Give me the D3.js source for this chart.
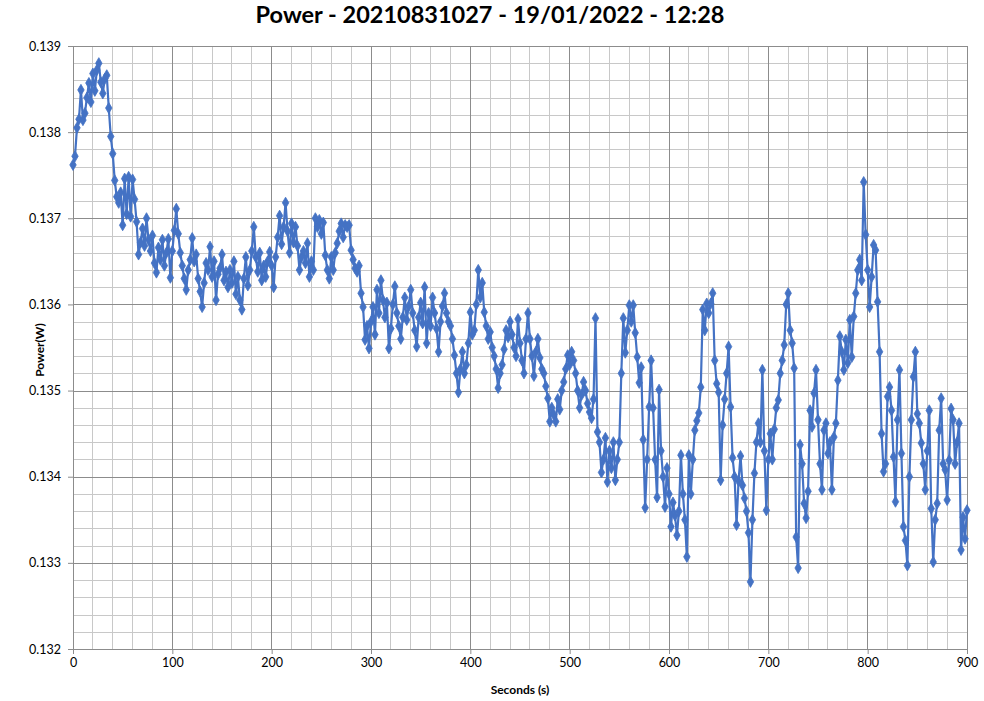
<!DOCTYPE html>
<html><head><meta charset="utf-8">
<script src="https://cdn.jsdelivr.net/npm/d3@7"></script>
<style>
html,body{margin:0;padding:0;background:#fff;}
svg{display:block;font-family:Lato,"Open Sans",Arial,sans-serif;}
</style></head>
<body><svg id="chart" width="984" height="701"></svg>
<script>
const title = "Power - 20210831027 - 19/01/2022 - 12:28";
const xTitle = "Seconds (s)";
const yTitle = "Power(W)";
const timeStep = 2; // seconds between samples
const xTicks = [0,100,200,300,400,500,600,700,800,900];
const yTicks = [0.132,0.133,0.134,0.135,0.136,0.137,0.138,0.139];
const power = [
0.13762,0.13772,0.13805,0.13815,0.13849,0.13814,0.13822,0.13840,0.13857,0.13835,
0.13868,0.13848,0.13872,0.13880,0.13858,0.13845,0.13862,0.13866,0.13828,0.13795,
0.13775,0.13744,0.13725,0.13718,0.13730,0.13692,0.13746,0.13705,0.13748,0.13702,
0.13745,0.13722,0.13696,0.13658,0.13672,0.13688,0.13668,0.13700,0.13675,0.13662,
0.13680,0.13648,0.13637,0.13666,0.13652,0.13675,0.13645,0.13660,0.13676,0.13631,
0.13662,0.13686,0.13711,0.13682,0.13660,0.13645,0.13630,0.13617,0.13640,0.13652,
0.13677,0.13650,0.13658,0.13630,0.13615,0.13597,0.13625,0.13648,0.13640,0.13667,
0.13632,0.13650,0.13605,0.13635,0.13642,0.13658,0.13628,0.13638,0.13620,0.13640,
0.13625,0.13650,0.13612,0.13632,0.13605,0.13594,0.13630,0.13655,0.13622,0.13640,
0.13662,0.13690,0.13655,0.13638,0.13660,0.13628,0.13645,0.13632,0.13650,0.13661,
0.13645,0.13620,0.13655,0.13678,0.13703,0.13670,0.13690,0.13718,0.13685,0.13660,
0.13694,0.13672,0.13690,0.13668,0.13640,0.13655,0.13662,0.13648,0.13671,0.13632,
0.13650,0.13640,0.13700,0.13690,0.13698,0.13682,0.13695,0.13657,0.13640,0.13630,
0.13655,0.13640,0.13660,0.13671,0.13685,0.13694,0.13678,0.13692,0.13690,0.13692,
0.13663,0.13652,0.13642,0.13638,0.13645,0.13613,0.13597,0.13559,0.13575,0.13549,
0.13580,0.13597,0.13565,0.13617,0.13590,0.13628,0.13605,0.13585,0.13602,0.13549,
0.13572,0.13600,0.13621,0.13590,0.13575,0.13560,0.13585,0.13608,0.13582,0.13598,
0.13617,0.13590,0.13570,0.13551,0.13585,0.13602,0.13578,0.13620,0.13555,0.13590,
0.13575,0.13608,0.13590,0.13572,0.13545,0.13580,0.13598,0.13613,0.13590,0.13580,
0.13575,0.13560,0.13541,0.13520,0.13498,0.13525,0.13545,0.13520,0.13530,0.13555,
0.13591,0.13565,0.13570,0.13600,0.13640,0.13608,0.13625,0.13591,0.13575,0.13560,
0.13568,0.13550,0.13540,0.13525,0.13503,0.13520,0.13530,0.13548,0.13570,0.13562,
0.13580,0.13565,0.13550,0.13540,0.13583,0.13555,0.13535,0.13520,0.13560,0.13590,
0.13560,0.13540,0.13517,0.13545,0.13560,0.13538,0.13525,0.13520,0.13505,0.13491,
0.13464,0.13480,0.13472,0.13464,0.13490,0.13478,0.13500,0.13510,0.13525,0.13541,
0.13530,0.13545,0.13535,0.13520,0.13500,0.13480,0.13495,0.13510,0.13500,0.13485,
0.13475,0.13468,0.13490,0.13584,0.13452,0.13440,0.13405,0.13420,0.13445,0.13394,
0.13430,0.13410,0.13440,0.13396,0.13420,0.13440,0.13520,0.13584,0.13544,0.13570,
0.13599,0.13580,0.13599,0.13567,0.13539,0.13509,0.13527,0.13443,0.13364,0.13420,
0.13481,0.13535,0.13480,0.13420,0.13376,0.13501,0.13430,0.13400,0.13365,0.13410,
0.13380,0.13342,0.13370,0.13355,0.13332,0.13360,0.13425,0.13380,0.13350,0.13307,
0.13425,0.13380,0.13420,0.13454,0.13465,0.13474,0.13504,0.13594,0.13570,0.13601,
0.13590,0.13601,0.13613,0.13535,0.13508,0.13498,0.13396,0.13460,0.13490,0.13520,
0.13551,0.13481,0.13422,0.13400,0.13344,0.13395,0.13424,0.13390,0.13375,0.13360,
0.13335,0.13278,0.13350,0.13404,0.13440,0.13462,0.13440,0.13524,0.13430,0.13361,
0.13420,0.13450,0.13420,0.13455,0.13480,0.13489,0.13520,0.13535,0.13553,0.13600,
0.13613,0.13570,0.13555,0.13526,0.13330,0.13294,0.13437,0.13415,0.13369,0.13352,
0.13383,0.13477,0.13458,0.13497,0.13524,0.13466,0.13415,0.13385,0.13454,0.13462,
0.13427,0.13440,0.13385,0.13446,0.13462,0.13512,0.13563,0.13545,0.13524,0.13559,
0.13532,0.13582,0.13539,0.13586,0.13613,0.13640,0.13652,0.13628,0.13742,0.13681,
0.13640,0.13597,0.13632,0.13669,0.13663,0.13603,0.13545,0.13450,0.13406,0.13415,
0.13493,0.13504,0.13477,0.13423,0.13371,0.13466,0.13524,0.13427,0.13342,0.13326,
0.13297,0.13400,0.13466,0.13516,0.13545,0.13473,0.13462,0.13439,0.13415,0.13385,
0.13430,0.13477,0.13363,0.13301,0.13350,0.13369,0.13454,0.13491,0.13415,0.13408,
0.13373,0.13419,0.13479,0.13466,0.13415,0.13440,0.13462,0.13315,0.13353,0.13328,
0.13361
];
const seconds = power.map((_, i) => i * timeStep);
const data = seconds.map((s, i) => ({s, v: power[i]}));

const svg = d3.select("#chart");
const L = 73, R = 967, T = 46, B = 649;
const x = d3.scaleLinear().domain([0, 900]).range([L, R]);
const y = d3.scaleLinear().domain([0.132, 0.139]).range([B, T]);

// minor grid
const g = svg.append("g");
g.selectAll("line.mx").data(d3.range(0, 901, 20)).join("line")
  .attr("x1", d => x(d)).attr("x2", d => x(d)).attr("y1", T).attr("y2", B)
  .attr("stroke", "#c8c8c8").attr("stroke-width", 1).attr("shape-rendering", "crispEdges");
g.selectAll("line.my").data(d3.range(0, 36).map(i => 0.132 + i * 0.0002)).join("line")
  .attr("y1", d => Math.round(y(d)) + 0.5).attr("y2", d => Math.round(y(d)) + 0.5).attr("x1", L).attr("x2", R)
  .attr("stroke", "#c8c8c8").attr("stroke-width", 1);
// major grid
g.selectAll("line.Mx").data(xTicks).join("line")
  .attr("x1", d => x(d)).attr("x2", d => x(d)).attr("y1", T).attr("y2", B)
  .attr("stroke", "#8c8c8c").attr("stroke-width", 1).attr("shape-rendering", "crispEdges");
g.selectAll("line.My").data(yTicks).join("line")
  .attr("y1", d => Math.round(y(d)) + 0.5).attr("y2", d => Math.round(y(d)) + 0.5).attr("x1", L).attr("x2", R)
  .attr("stroke", "#8c8c8c").attr("stroke-width", 1);

// axes
const xAxis = svg.append("g").attr("transform", `translate(0,${B})`)
  .call(d3.axisBottom(x).tickValues(xTicks).tickFormat(d3.format("d")).tickSize(5).tickPadding(4));
const yAxis = svg.append("g").attr("transform", `translate(${L},0)`)
  .call(d3.axisLeft(y).tickValues(yTicks).tickFormat(d3.format(".3f")).tickSize(5).tickPadding(7));
[xAxis, yAxis].forEach(a => {
  a.select(".domain").attr("stroke", "#8c8c8c");
  a.selectAll(".tick line").attr("stroke", "#8c8c8c");
  a.selectAll("text").attr("fill", "#000").style("font-size", "12.5px").style("font-family", "Lato, 'Open Sans', Arial, sans-serif");
});

// line + markers
const col = "#4472C4";
svg.append("path").datum(data)
  .attr("d", d3.line().x(d => x(d.s)).y(d => y(d.v)))
  .attr("fill", "none").attr("stroke", col).attr("stroke-width", 2.2).attr("stroke-linejoin", "round");
svg.append("g").selectAll("path").data(data).join("path")
  .attr("d", d3.symbol().type(d3.symbolDiamond).size(36))
  .attr("transform", d => `translate(${x(d.s)},${y(d.v)})`)
  .attr("fill", col).attr("stroke", col).attr("stroke-width", 0.8);

// titles
svg.append("text").attr("x", 490).attr("y", 23).attr("text-anchor", "middle")
  .style("font-size", "23.5px").style("font-weight", "bold").text(title);
svg.append("text").attr("x", 520).attr("y", 694).attr("text-anchor", "middle")
  .style("font-size", "12px").style("font-weight", "bold").text(xTitle);
svg.append("text").attr("transform", "translate(44,350) rotate(-90)").attr("text-anchor", "middle")
  .style("font-size", "12px").style("font-weight", "bold").text(yTitle);
</script>
</body></html>
